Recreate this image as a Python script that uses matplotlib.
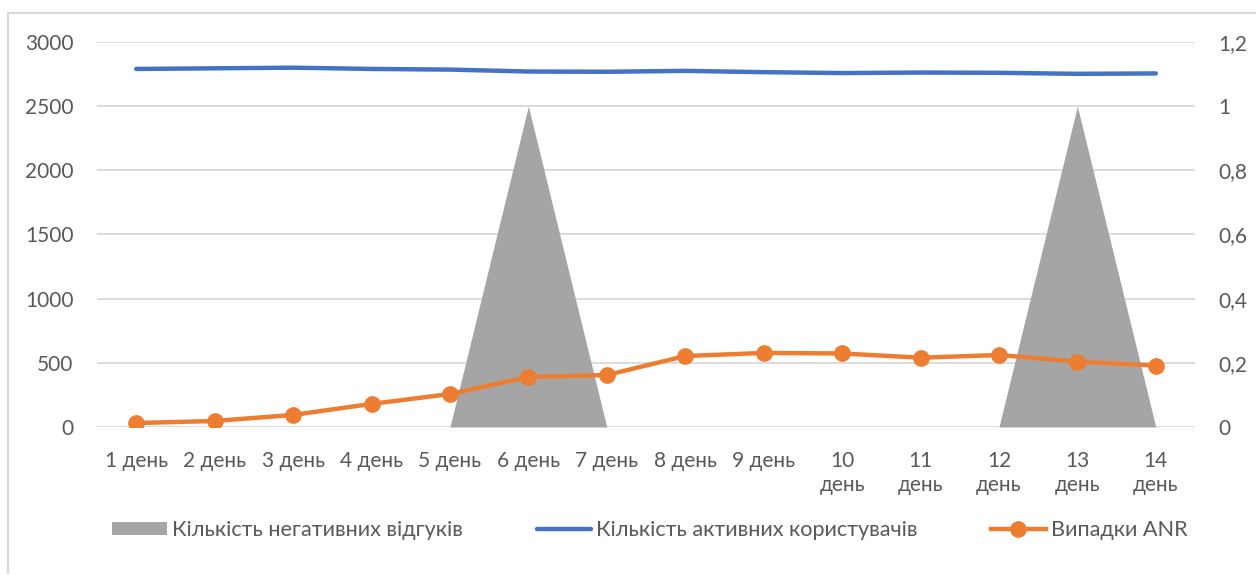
import matplotlib
matplotlib.use("Agg")
import matplotlib.pyplot as plt
from matplotlib.lines import Line2D
from matplotlib.patches import Patch
from matplotlib.ticker import FixedLocator, FuncFormatter

days = ["1 день", "2 день", "3 день", "4 день", "5 день", "6 день", "7 день",
        "8 день", "9 день", "10\nдень", "11\nдень", "12\nдень", "13\nдень", "14\nдень"]
negative_reviews = [0, 0, 0, 0, 0, 1, 0, 0, 0, 0, 0, 0, 1, 0]
active_users = [2790, 2795, 2800, 2790, 2785, 2770, 2768, 2775, 2765, 2758, 2762, 2760, 2752, 2755]
anr_cases = [31, 47, 94, 180, 257, 390, 405, 553, 577, 573, 540, 561, 510, 479]

left_ticks = [0, 500, 1000, 1500, 2000, 2500, 3000]
right_ticks = [0, 0.2, 0.4, 0.6, 0.8, 1.0, 1.2]

TEXT = "#595959"
GRID = "#D9D9D9"
plt.rcParams["font.family"] = ["Lato", "DejaVu Sans"]
plt.rcParams["font.size"] = 15

fig = plt.figure(figsize=(12.56, 5.75), dpi=100)
ax2 = fig.add_axes([97 / 1256, 1 - 427 / 575, (1195 - 97) / 1256, (427 - 42) / 575])
ax = ax2.twinx()
ax.yaxis.tick_left()
ax2.yaxis.tick_right()
ax.set_zorder(ax2.get_zorder() + 1)
ax.patch.set_visible(False)

x = list(range(1, len(days) + 1))

# area on the secondary axis, behind everything
ax2.fill_between(x, negative_reviews, color="#A5A5A5", lw=0, zorder=2)
ax2.set_ylim(0, 1.2)
ax2.yaxis.set_major_locator(FixedLocator(right_ticks))
ax2.yaxis.set_major_formatter(FuncFormatter(lambda v, p: f"{v:g}".replace(".", ",")))
ax2.grid(axis="y", color=GRID, lw=1.3, zorder=0)
ax2.set_axisbelow(True)

ax.plot(x, active_users, color="#4472C4", lw=3.2, solid_capstyle="round", zorder=3)
ax.plot(x, anr_cases, color="#ED7D31", lw=3.2, marker="o", markersize=11, zorder=4)
ax.set_ylim(0, 3000)
ax.yaxis.set_major_locator(FixedLocator(left_ticks))

ax2.set_xlim(0.5, len(days) + 0.5)
ax2.set_xticks(x)
ax2.set_xticklabels(days, linespacing=1.3)

for a in (ax, ax2):
    for s in a.spines.values():
        s.set_visible(False)
    a.tick_params(length=0, colors=TEXT, labelsize=15)
ax.tick_params(axis="y", pad=17)
ax2.tick_params(axis="y", pad=17)
ax2.tick_params(axis="x", pad=17)
for lbl in ax2.get_xticklabels():
    lbl.set_verticalalignment("top")
for lbl in ax2.get_yticklabels():
    lbl.set_horizontalalignment("left")

handles = [
    Patch(color="#A5A5A5", lw=0),
    Line2D([], [], color="#4472C4", lw=3.2, solid_capstyle="round"),
    Line2D([], [], color="#ED7D31", lw=3.2, marker="o", markersize=11),
]
labels = ["Кількість негативних відгуків", "Кількість активних користувачів", "Випадки ANR"]
leg = fig.legend(handles, labels, loc="center", bbox_to_anchor=(650 / 1256, 1 - 530 / 575),
                 ncol=3, frameon=False, handlelength=2.5, handleheight=0.55,
                 handletextpad=0.25, columnspacing=3.4, fontsize=15.6)
for t in leg.get_texts():
    t.set_color(TEXT)

# chart border
fig.add_artist(Line2D([8 / 1256, 1.0], [1 - 13 / 575] * 2, color=GRID, lw=1.5))
fig.add_artist(Line2D([8 / 1256] * 2, [1 - 13 / 575, 1 - 573 / 575], color=GRID, lw=1.5))

fig.savefig("out.png", dpi=100)
